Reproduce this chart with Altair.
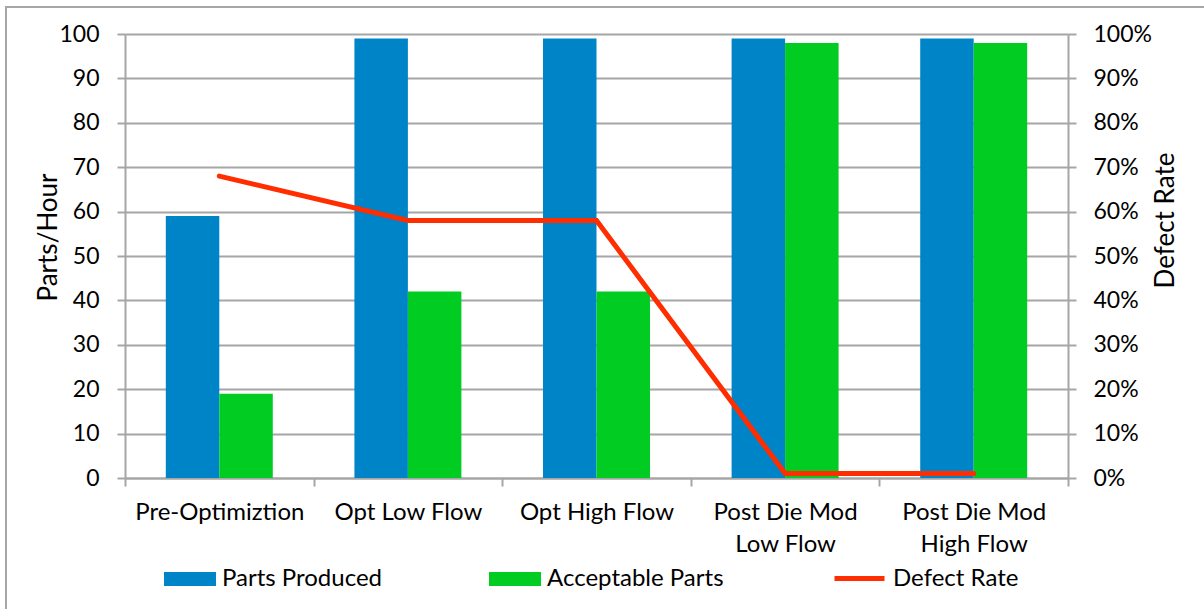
import altair as alt
import pandas as pd

# Category labels (line breaks become multi-line axis labels)
categories = [
    "Pre-Optimiztion",
    "Opt Low Flow",
    "Opt High Flow",
    "Post Die Mod\nLow Flow",
    "Post Die Mod\nHigh Flow",
]
parts_produced = [59, 99, 99, 99, 99]
acceptable_parts = [19, 42, 42, 98, 98]
defect_rate = [0.68, 0.58, 0.58, 0.01, 0.01]

bar_series = ["Parts Produced", "Acceptable Parts"]
bar_colors = ["#0084C8", "#00CC22"]
line_series = ["Defect Rate"]
line_colors = ["#FF2D00"]

FONT = "Lato"
GRID = "#A6A6A6"

bars_df = pd.DataFrame(
    {
        "category": categories * 2,
        "series": [bar_series[0]] * len(categories) + [bar_series[1]] * len(categories),
        "value": parts_produced + acceptable_parts,
    }
)
line_df = pd.DataFrame(
    {"category": categories, "series": line_series * len(categories), "rate": defect_rate}
)

x_enc = alt.X(
    "category:N",
    sort=categories,
    scale=alt.Scale(paddingInner=0, paddingOuter=0),
    axis=alt.Axis(
        title=None,
        labelExpr="split(datum.label, '\\n')",
        labelAngle=0,
        labelFont=FONT,
        labelFontSize=24,
        labelColor="#000000",
        labelPadding=14,
        labelLineHeight=32,
        labelBaseline="top",
        tickBand="extent",
        tickSize=8,
        tickColor=GRID,
        tickWidth=2,
        domainColor=GRID,
        domainWidth=2,
        grid=False,
    ),
)

legend_common = dict(
    title=None,
    orient="none",
    direction="horizontal",
    labelFont=FONT,
    labelFontSize=24,
    labelColor="#000000",
    labelOffset=6,
    labelLimit=400,
)

bars = (
    alt.Chart(bars_df)
    .mark_bar(opacity=1)
    .encode(
        x=x_enc,
        xOffset=alt.XOffset(
            "series:N",
            sort=bar_series,
            scale=alt.Scale(paddingInner=0, paddingOuter=0.763),
        ),
        y=alt.Y(
            "value:Q",
            scale=alt.Scale(domain=[0, 100], nice=False),
            axis=alt.Axis(
                title="Parts/Hour",
                values=list(range(0, 101, 10)),
                labelFont=FONT,
                labelFontSize=23,
                labelColor="#000000",
                labelPadding=18,
                tickSize=8,
                tickColor=GRID,
                tickWidth=2,
                domainColor=GRID,
                domainWidth=2,
                grid=True,
                gridColor=GRID,
                gridWidth=2,
                titleFont=FONT,
                titleFontSize=26,
                titleFontWeight="normal",
                titleColor="#000000",
                titleAngle=270,
                titleAlign="center",
                titleBaseline="alphabetic",
                titleX=-69,
                titleY=203,
            ),
        ),
        color=alt.Color(
            "series:N",
            sort=bar_series,
            scale=alt.Scale(domain=bar_series, range=bar_colors),
            legend=alt.Legend(
                legendX=39,
                legendY=519,
                columns=2,
                columnPadding=106,
                symbolType="M-1,-0.27H1V0.27H-1Z",
                symbolSize=2704,
                symbolStrokeWidth=0,
                symbolOpacity=1,
                **legend_common,
            ),
        ),
    )
)

line = (
    alt.Chart(line_df)
    .mark_line(strokeWidth=5, strokeCap="round", strokeJoin="miter")
    .encode(
        x=alt.X("category:N", sort=categories),
        y=alt.Y(
            "rate:Q",
            scale=alt.Scale(domain=[0, 1], nice=False),
            axis=alt.Axis(
                title="Defect Rate",
                orient="right",
                values=[i / 10 for i in range(11)],
                format=".0%",
                labelFont=FONT,
                labelFontSize=23,
                labelColor="#000000",
                labelPadding=17,
                tickSize=8,
                tickColor=GRID,
                tickWidth=2,
                domainColor=GRID,
                domainWidth=2,
                grid=False,
                titleFont=FONT,
                titleFontSize=26,
                titleFontWeight="normal",
                titleColor="#000000",
                titleAngle=270,
                titleAlign="center",
                titleBaseline="alphabetic",
                titleX=105,
                titleY=186,
            ),
        ),
        stroke=alt.Stroke(
            "series:N",
            scale=alt.Scale(domain=line_series, range=line_colors),
            legend=alt.Legend(
                legendX=707,
                legendY=517,
                symbolType="stroke",
                symbolSize=2500,
                symbolStrokeWidth=5,
                symbolOpacity=1,
                **legend_common,
            ),
        ),
    )
)

# Thin grey frame around the whole figure
frame = (
    alt.Chart(pd.DataFrame({"f": [0]}))
    .mark_rect(fill=None, stroke=GRID, strokeWidth=2)
    .encode(
        x=alt.value(-119),
        x2=alt.value(1090),
        y=alt.value(-27),
        y2=alt.value(590),
    )
)

chart = (
    alt.layer(bars, line, frame)
    .resolve_scale(y="independent")
    .properties(
        width=943,
        height=444,
        padding={"left": 125, "top": 34, "right": 136, "bottom": 131},
        autosize=alt.AutoSizeParams(type="none"),
        background="#FFFFFF",
    )
    .configure_view(stroke=None)
)

chart.save("out.html", embed_options={"renderer": "svg", "actions": False})
